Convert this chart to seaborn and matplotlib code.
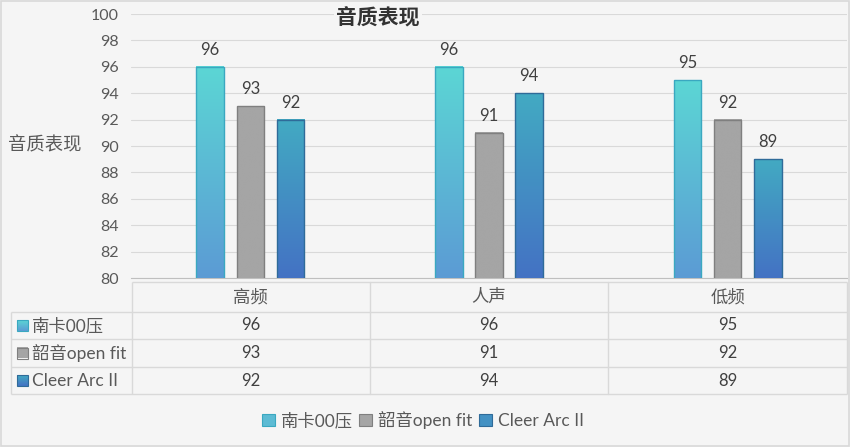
import numpy as np
import pandas as pd
import matplotlib
matplotlib.use("Agg")
import matplotlib.pyplot as plt
import seaborn as sns
from matplotlib.colors import LinearSegmentedColormap, to_rgb
from matplotlib.patches import Rectangle
from matplotlib.transforms import blended_transform_factory

# ---- data ----
categories = ["高频", "人声", "低频"]
series_names = ["南卡00压", "韶音open fit", "Cleer Arc II"]
nanka = [96, 96, 95]
shokz = [93, 91, 92]
cleer = [92, 94, 89]
yticks = list(range(80, 101, 2))

values = [nanka, shokz, cleer]
df = pd.DataFrame({
    "cat": np.repeat([categories], 3, axis=0).ravel(),
    "series": np.repeat(series_names, 3),
    "val": np.concatenate(values),
})

# colours: (top, bottom, edge)
grad = {
    "南卡00压": ("#5CD6D4", "#5B9BD5", "#3AA8C0"),
    "韶音open fit": ("#A5A5A5", "#A5A5A5", "#7F7F7F"),
    "Cleer Arc II": ("#42AAC2", "#4472C4", "#2F6B99"),
}
BG = "#F5F5F5"
TXT = "#595959"


def mid(c1, c2):
    a, b = np.array(to_rgb(c1)), np.array(to_rgb(c2))
    return tuple(0.55 * a + 0.45 * b)


sns.set_theme(style="white")
plt.rcParams["font.family"] = ["Lato", "Noto Sans CJK SC", "DejaVu Sans"]

fig = plt.figure(figsize=(8.5, 4.47), dpi=100, facecolor=BG)
W, H = 850, 447
ax = fig.add_axes([131 / W, 1 - 278 / H, (847 - 131) / W, (278 - 14) / H])
ax.set_facecolor(BG)

sns.barplot(data=df, x="cat", y="val", hue="series", order=categories,
            hue_order=series_names, width=0.504, gap=0.3125,
            palette=[grad[s][0] for s in series_names], ax=ax, legend=False,
            zorder=3)
ax.set_ylim(80, 100)
ax.set_xlim(-0.5, 2.5)
ax.set_yticks(yticks)
ax.set_xticks([])
ax.set_xlabel("")
ax.set_ylabel("")
ax.tick_params(axis="y", length=0, pad=9, labelsize=11.5, labelcolor=TXT)
ax.grid(axis="y", color="#D9D9D9", lw=0.8, zorder=0)
for s in ["left", "right", "top"]:
    ax.spines[s].set_visible(False)
ax.spines["bottom"].set_color("#BFBFBF")
ax.spines["bottom"].set_linewidth(0.8)

# gradient bars
n_cat = len(categories)
for k, cont in enumerate(ax.containers):
    name = series_names[k]
    top, bot, edge = grad[name]
    cmap = LinearSegmentedColormap.from_list(name, [bot, top])
    for p in cont.patches:
        x0, w, h = p.get_x(), p.get_width(), p.get_height()
        img = np.linspace(0, 1, 256).reshape(-1, 1)
        ax.imshow(img, extent=[x0, x0 + w, 80, h], origin="lower",
                  cmap=cmap, aspect="auto", zorder=3, interpolation="bicubic")
        p.set_facecolor("none")
        p.set_edgecolor(edge)
        p.set_linewidth(1.0)
        p.set_zorder(4)
    ax.bar_label(cont, labels=[str(v) for v in values[k]], padding=6.5,
                 fontsize=12, color="#404040", zorder=5)
ax.set_xlim(-0.5, 2.5)
ax.set_ylim(80, 100)

# ---- overlay axes in pixel coords for table / texts ----
tax = fig.add_axes([0, 0, 1, 1], zorder=-1)
tax.set_xlim(0, W)
tax.set_ylim(H, 0)
tax.axis("off")
tax.patch.set_alpha(0)
tax.add_patch(Rectangle((0.5, 0.5), W - 1.5, H - 1.5, fill=False,
                        ec="#D9D9D9", lw=1.2))

lc = "#D9D9D9"
trans = blended_transform_factory(ax.transData, tax.transData)
row_y = [282, 312, 339, 367, 394]
xl, xa, xr = 11, 132, 847
tax.hlines(row_y[0], xa, xr, color=lc, lw=1)
tax.hlines(row_y[1:], xl, xr, color=lc, lw=1)
tax.vlines(xl, row_y[1], row_y[-1], color=lc, lw=1)
tax.vlines(xa, row_y[0], row_y[-1], color=lc, lw=1)
for i in range(1, n_cat):
    tax.plot([i - 0.5, i - 0.5], [row_y[0], row_y[-1]], color=lc, lw=1,
             transform=trans, clip_on=False)
tax.vlines(xr, row_y[0], row_y[-1], color=lc, lw=1)

for i, c in enumerate(categories):
    tax.text(i, (row_y[0] + row_y[1]) / 2, c, transform=trans, ha="center",
             va="center", fontsize=12.5, color=TXT, clip_on=False)
for k, name in enumerate(series_names):
    yc = (row_y[k + 1] + row_y[k + 2]) / 2
    top, bot, edge = grad[name]
    cmap = LinearSegmentedColormap.from_list(name + "m", [bot, top])
    tax.imshow(np.linspace(0, 1, 64).reshape(-1, 1),
               extent=[17.5, 28.5, yc + 5.5, yc - 5.5], origin="lower",
               cmap=cmap, aspect="auto", zorder=2)
    tax.add_patch(Rectangle((17.5, yc - 5.5), 11, 11, fill=False,
                            ec=edge, lw=0.8, zorder=3))
    tax.text(32, yc, name, ha="left", va="center", fontsize=12.5, color=TXT)
    for i in range(n_cat):
        tax.text(i, yc, str(values[k][i]), transform=trans, ha="center",
                 va="center", fontsize=12, color="#404040", clip_on=False)
tax.set_xlim(0, W)
tax.set_ylim(H, 0)

# title and y label
fig.text(378 / W, 1 - 18 / H, "音质表现", ha="center", va="center",
         fontsize=15, fontweight="bold", color="#333333",
         family=["Noto Sans CJK SC"],
         bbox=dict(fc=BG, ec="none", pad=2), zorder=10)
fig.text(8 / W, 1 - 145 / H, "音质表现", ha="left", va="center",
         fontsize=13.2, color=TXT, family=["Noto Sans CJK SC"])

# legend
handles = [Rectangle((0, 0), 1, 1, fc=mid(grad[s][0], grad[s][1]),
                     ec=grad[s][2], lw=0.8)
           for s in series_names]
fig.legend(handles, series_names, loc="center",
           bbox_to_anchor=(423 / W, 1 - 420 / H), ncol=3, frameon=False,
           handlelength=0.75, handleheight=0.75, handletextpad=0.35,
           columnspacing=0.35, fontsize=12.5, labelcolor=TXT)

fig.savefig("out.png", dpi=100, facecolor=BG)
